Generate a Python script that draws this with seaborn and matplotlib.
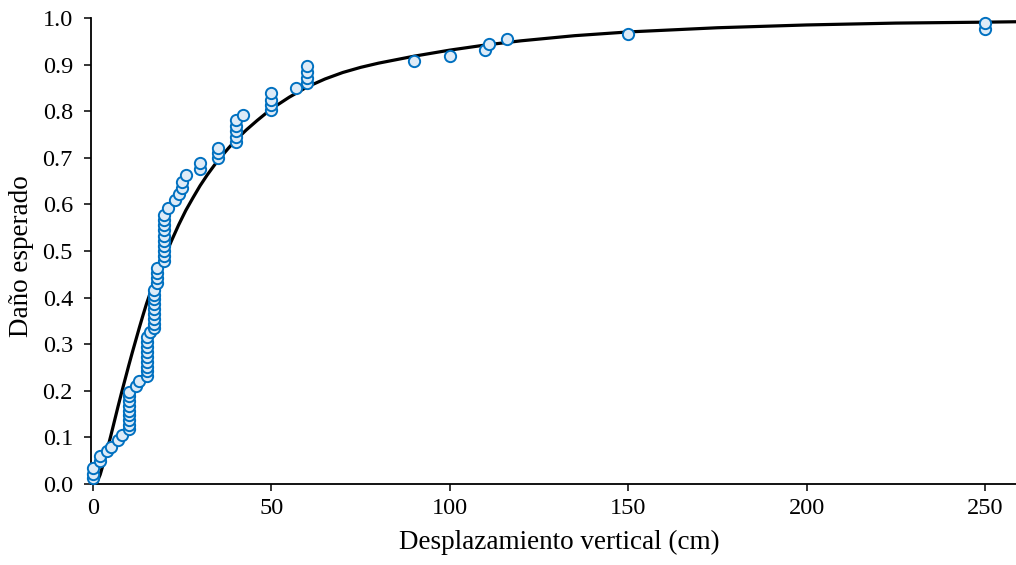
import numpy as np
import pandas as pd
import matplotlib
matplotlib.use("Agg")
import matplotlib.pyplot as plt
import seaborn as sns

# observed damage vs vertical displacement
obs_x = [0, 0, 0, 2, 2, 4, 5, 7, 8,
         10, 10, 10, 10, 10, 10, 10, 10, 10,
         12, 13,
         15, 15, 15, 15, 15, 15, 15, 15, 15, 16,
         17, 17, 17, 17, 17, 17, 17, 17, 17,
         18, 18, 18, 18,
         20, 20, 20, 20, 20, 20, 20, 20, 20, 20,
         21, 23, 24, 25, 25, 26,
         30, 30, 35, 35, 35,
         40, 40, 40, 40, 40, 42,
         50, 50, 50, 50, 57,
         60, 60, 60, 60,
         90, 100, 110, 111, 116, 150, 250, 250]
obs_y = [0.012, 0.022, 0.035, 0.05, 0.06, 0.07, 0.08, 0.095, 0.105,
         0.117, 0.127, 0.137, 0.147, 0.157, 0.168, 0.178, 0.188, 0.198,
         0.21, 0.22,
         0.232, 0.242, 0.252, 0.262, 0.273, 0.283, 0.294, 0.305, 0.316, 0.327,
         0.334, 0.344, 0.355, 0.365, 0.375, 0.386, 0.396, 0.406, 0.416,
         0.431, 0.442, 0.452, 0.463,
         0.478, 0.489, 0.5, 0.511, 0.522, 0.533, 0.544, 0.555, 0.566, 0.577,
         0.592, 0.609, 0.622, 0.636, 0.649, 0.663,
         0.676, 0.689, 0.70, 0.71, 0.72,
         0.733, 0.745, 0.757, 0.769, 0.781, 0.792,
         0.803, 0.814, 0.825, 0.838, 0.85,
         0.86, 0.872, 0.884, 0.896,
         0.908, 0.919, 0.931, 0.944, 0.954, 0.965, 0.976, 0.989]

# fitted curve
fit_x = [0.8, 1, 2, 3, 4, 5, 6, 7, 8, 9, 10, 11, 12, 13, 14, 15, 16, 17, 18,
         19, 20, 22, 24, 26, 28, 30, 32, 34, 36, 38, 40, 43, 46, 50, 55, 60,
         65, 70, 75, 80, 90, 100, 110, 120, 135, 150, 175, 200, 225, 250, 260]
fit_y = [0.0, 0.002, 0.02, 0.046, 0.074, 0.104, 0.135, 0.166, 0.196, 0.225,
         0.254, 0.282, 0.309, 0.336, 0.362, 0.387, 0.409, 0.43, 0.449, 0.467,
         0.486, 0.522, 0.556, 0.587, 0.614, 0.64, 0.663, 0.684, 0.703, 0.721,
         0.738, 0.76, 0.78, 0.805, 0.83, 0.852, 0.869, 0.883, 0.894, 0.903,
         0.918, 0.931, 0.942, 0.951, 0.962, 0.970, 0.979, 0.985, 0.989, 0.991,
         0.992]

obs = pd.DataFrame({"x": obs_x, "y": obs_y})
fit = pd.DataFrame({"x": fit_x, "y": fit_y})

sns.set_style("ticks")
plt.rcParams['font.family'] = ['Liberation Serif', 'DejaVu Serif']
plt.rcParams['text.color'] = 'black'
plt.rcParams['axes.labelcolor'] = 'black'
plt.rcParams['axes.edgecolor'] = 'black'

fig = plt.figure(figsize=(10.16, 5.65), dpi=100)
ax = fig.add_axes([0.0896, 0.1434, 0.9104, 0.8248])

sns.lineplot(data=fit, x="x", y="y", ax=ax, color="black", linewidth=2.3,
             sort=False, estimator=None)
sns.scatterplot(data=obs, x="x", y="y", ax=ax, s=66, color="#DEEBF7",
                edgecolor="#0070C0", linewidth=1.4, clip_on=False, zorder=3)

ax.set_xlim(-0.56, 258.7)
ax.set_ylim(0, 1.0)
ax.set_xticks([0, 50, 100, 150, 200, 250])
ax.set_yticks(np.round(np.arange(0, 1.01, 0.1), 1))
ax.yaxis.set_major_formatter(plt.FuncFormatter(lambda v, _: '{:.1f}'.format(v)))
ax.tick_params(labelsize=17.5, length=5, width=1.1, colors="black")
ax.tick_params(axis='x', pad=5)
ax.tick_params(axis='y', pad=8)
ax.set_xlabel('Desplazamiento vertical (cm)', fontsize=19.5, color='black')
ax.set_ylabel('Daño esperado', fontsize=19.5, color='black')
ax.xaxis.set_label_coords(0.506, -0.099)
ax.yaxis.set_label_coords(-0.062, 0.49)
sns.despine(ax=ax)
for sp in ax.spines.values():
    sp.set_linewidth(1.3)
    sp.set_color('black')

fig.savefig("out.png", dpi=100)
